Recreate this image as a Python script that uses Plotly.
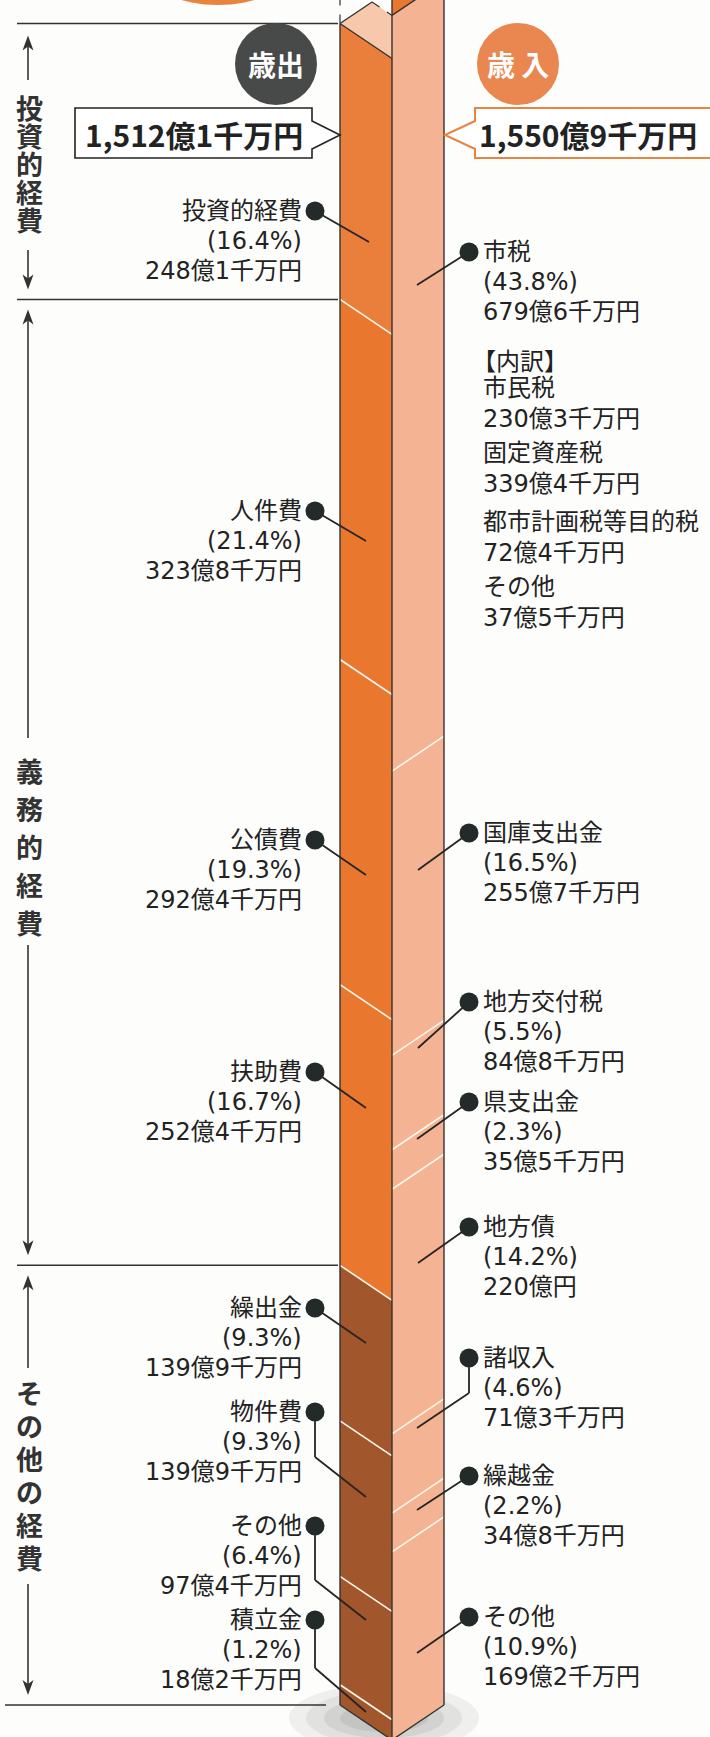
import plotly.graph_objects as go

# ---------------- data (億円) ----------------
exp_names = ["投資的経費", "人件費", "公債費", "扶助費", "繰出金", "物件費", "その他", "積立金"]
exp_values = [248.1, 323.8, 292.4, 252.4, 139.9, 139.9, 97.4, 18.2]
exp_groups = ["投資的経費", "義務的経費", "義務的経費", "義務的経費",
              "その他の経費", "その他の経費", "その他の経費", "その他の経費"]

rev_names = ["市税", "国庫支出金", "地方交付税", "県支出金", "地方債", "諸収入", "繰越金", "その他"]
rev_values = [679.6, 255.7, 84.8, 35.5, 220.0, 71.3, 34.8, 169.2]

city_tax_names = ["市民税", "固定資産税", "都市計画税等目的税", "その他"]
city_tax_values = [230.3, 339.4, 72.4, 37.5]

exp_title = "歳出"
rev_title = "歳 入"

# ---------------- helpers ----------------
def oku(v):
    t = int(round(v * 10))
    o, s = divmod(t, 10)
    return f"{o:,}億{s}千万円" if s else f"{o:,}億円"

exp_total = sum(exp_values)
rev_total = sum(rev_values)

W, H = 710, 1737
B = 1705.0      # pixel row of column bottom (at outer edges)
K = 1.112       # pixels per 億円
def vy(p):      # pixel row -> value axis
    return (B - p) / K

XL, XC, XR = 340, 392, 444
S = 35 / K      # slant of the prism faces in value units

FONT = "Noto Sans CJK JP, Noto Sans CJK SC, sans-serif"
LFONT = "DejaVu Sans, Noto Sans CJK JP, sans-serif"
TXT = "#222222"
EDGE = "#333333"

exp_colors = ["#EA7F3C", "#E9772E", "#E9772E", "#E9772E",
              "#A1572B", "#A1572B", "#A1572B", "#A1572B"]
rev_color = "#F4B392"
top_color = "#F7C8AC"

fig = go.Figure()
shapes = []
ann = []

def line(x0, p0, x1, p1, color=EDGE, width=1.5, dash=None, v=False):
    y0 = p0 if v else vy(p0)
    y1 = p1 if v else vy(p1)
    d = dict(type="line", xref="x", yref="y", x0=x0, x1=x1, y0=y0, y1=y1,
             line=dict(color=color, width=width))
    if dash:
        d["line"]["dash"] = dash
    shapes.append(d)

def circle(cx, cp, r, color, layer="above", opacity=1):
    shapes.append(dict(type="circle", xref="x", yref="y", x0=cx - r, x1=cx + r,
                       y0=vy(cp + r), y1=vy(cp - r), fillcolor=color,
                       line=dict(width=0), layer=layer, opacity=opacity))

def text(x, p, s, size=24, anchor="left", color=TXT, bold=False, family=LFONT):
    ann.append(dict(x=x, y=vy(p), xref="x", yref="y", text=(f"<b>{s}</b>" if bold else s),
                    showarrow=False, xanchor=anchor, yanchor="middle",
                    font=dict(family=family, size=size, color=color)))

# ---------------- shadow ----------------
for rx, ry, op in [(95, 34, 0.10), (78, 27, 0.12), (60, 20, 0.14), (44, 14, 0.16)]:
    shapes.append(dict(type="circle", xref="x", yref="y", x0=XC - 8 - rx, x1=XC - 8 + rx,
                       y0=vy(1718 + ry), y1=vy(1718 - ry), fillcolor="#7a7a7a",
                       line=dict(width=0), layer="below", opacity=op))

# partial orange circle at very top
circle(218, -131, 136, "#E9843F")

# ---------------- column faces (from data) ----------------
top = exp_total
for name, val, col in zip(exp_names, exp_values, exp_colors):
    bot = top - val
    fig.add_trace(go.Scatter(x=[XL, XC, XC, XL, XL], y=[top, top - S, bot - S, bot, top],
                             fill="toself", fillcolor=col, mode="lines", line=dict(width=0),
                             hoverinfo="skip", name=name))
    top = bot

top = rev_total
for name, val in zip(rev_names, rev_values):
    bot = top - val
    fig.add_trace(go.Scatter(x=[XC, XR, XR, XC, XC], y=[top - S, top, bot, bot - S, top - S],
                             fill="toself", fillcolor=rev_color, mode="lines", line=dict(width=0),
                             hoverinfo="skip", name=name))
    top = bot

# top face of expenditure block and the upper part of the revenue block
a = (exp_total - rev_total + 2 * S) / (2 * S)
tx = XC - (XC - XL) * a
tv = rev_total - S + S * a
fig.add_trace(go.Scatter(x=[XL, XC, XC, tx, XL], y=[exp_total, exp_total - S, rev_total - S, tv, exp_total],
                         fill="toself", fillcolor=top_color, mode="lines", line=dict(width=0),
                         hoverinfo="skip"))
fig.add_trace(go.Scatter(x=[XC, XR, XR, XC, XC],
                         y=[rev_total - S, rev_total, rev_total + 80, rev_total + 80, rev_total - S],
                         fill="toself", fillcolor="#E9772E", mode="lines", line=dict(width=0),
                         hoverinfo="skip"))

# white dividers
top = exp_total
for val in exp_values[:-1]:
    top -= val
    line(XL, top, XC, top - S, color="#FFF6EE", width=1.6, v=True)
top = rev_total
for val in rev_values[:-1]:
    top -= val
    line(XC, top - S, XR, top, color="#FFF6EE", width=1.6, v=True)

# edges
line(XL, 0, XL, exp_total, v=True, width=1.4)
line(XC, -S, XC, rev_total + 80, v=True, width=1.4)
line(XR, 0, XR, rev_total + 80, v=True, width=1.4)
line(XL, 0, XC, -S, v=True, width=1.4)
line(XC, -S, XR, 0, v=True, width=1.4)
line(XL, exp_total, XC, exp_total - S, v=True, width=1.4)
line(XC, rev_total - S, XR, rev_total, v=True, width=1.4)
line(XL, exp_total, tx, tv, v=True, width=1.4)
line(tx, tv, XC, rev_total - S, v=True, width=1.2, dash="dash")
line(XL, exp_total, XL, rev_total + 80, v=True, width=1.2, dash="dash")

# ---------------- section separators and vertical labels ----------------
group_order = []
for g in exp_groups:
    if g not in group_order:
        group_order.append(g)
seps = [B - K * exp_total]
acc = exp_total
for g in group_order:
    acc -= sum(v for v, gg in zip(exp_values, exp_groups) if gg == g)
    seps.append(B - K * acc)
for i, p in enumerate(seps):
    x0 = 5 if i == len(seps) - 1 else 17
    x1 = 326 if i == len(seps) - 1 else 338
    line(x0, p, x1, p, color="#333333", width=1.6)

sec_char_start = [107, 770, 1392]
sec_char_pitch = [28, 38, 33]
sec_arrow_tail = [(80, 250), (738, 945), (1368, 1584)]
AX = 28

def arrow(tail, tip):
    line(AX, tail, AX, tip + (6 if tip < tail else -6), color="#333333", width=1.6)
    d = -1 if tip < tail else 1
    shapes.append(dict(type="path", xref="x", yref="y",
                       path=f"M {AX - 5.5},{vy(tip - d * 15)} L {AX},{vy(tip)} L {AX + 5.5},{vy(tip - d * 15)} "
                            f"L {AX},{vy(tip - d * 11)} Z",
                       fillcolor="#333333", line=dict(width=0)))

for i, g in enumerate(group_order):
    for j, ch in enumerate(g):
        text(AX + 1, sec_char_start[i] + j * sec_char_pitch[i], ch, size=27, anchor="center",
             color="#333333", bold=True, family=FONT)
    up_tail, down_tail = sec_arrow_tail[i]
    arrow(up_tail, seps[i] + (12 if i == 0 else 10))
    arrow(down_tail, seps[i + 1] - 10)

# ---------------- title circles and total boxes ----------------
circle(276, 64, 41, "#474A48")
text(276, 64, exp_title, size=28, anchor="center", color="white", bold=True, family=FONT)
circle(518, 64, 41, "#EA8650")
text(518, 64, rev_title, size=28, anchor="center", color="white", bold=True, family=FONT)

def pathpx(pts):
    return "M " + " L ".join(f"{x},{vy(p)}" for x, p in pts) + " Z"

shapes.append(dict(type="path", xref="x", yref="y",
                   path=pathpx([(75, 108), (312, 108), (312, 121), (XL, 135), (312, 149), (312, 158), (75, 158)]),
                   fillcolor="white", line=dict(color="#222222", width=1.6)))
shapes.append(dict(type="path", xref="x", yref="y",
                   path=pathpx([(714, 108), (475, 108), (475, 121), (XR + 1, 135), (475, 149), (475, 158), (714, 158)]),
                   fillcolor="white", line=dict(color="#E8843F", width=2)))
text(194, 134, oku(exp_total), size=30, anchor="center", color="#222222", bold=True, family=FONT)
text(588, 134, oku(rev_total), size=30, anchor="center", color="#222222", bold=True, family=FONT)

# ---------------- item labels ----------------
LS = 30
exp_label_y = [211, 511, 840, 1072, 1308, 1412, 1526, 1620]
exp_leader_bend = [None, None, None, None, None, 1457, 1580, 1668]
exp_leader_end = [(369, 242), (366, 541), (366, 875), (366, 1108), (366, 1343), (366, 1497), (366, 1620), (366, 1712)]
rev_label_y = [252, 833, 1002, 1102, 1227, 1358, 1476, 1617]
rev_leader_bend = [None, None, None, None, None, 1393, None, None]
rev_leader_end = [(417, 285), (418, 870), (418, 1048), (417, 1139), (418, 1263), (417, 1428), (417, 1510), (417, 1653)]
LDX, RDX = 315, 469
DOT_R = 9.5
LEADER = "#252525"

for name, val, py, bend, end in zip(exp_names, exp_values, exp_label_y, exp_leader_bend, exp_leader_end):
    if bend is None:
        line(LDX, py, end[0], end[1], color=LEADER, width=1.8)
    else:
        line(LDX, py, LDX, bend, color=LEADER, width=1.8)
        line(LDX, bend, end[0], end[1], color=LEADER, width=1.8)
    circle(LDX, py, DOT_R, "#222a2a")
    text(304, py, name, anchor="right")
    text(304, py + LS, f"({val / exp_total * 100:.1f}%)", anchor="right")
    text(304, py + 2 * LS, oku(val), anchor="right")

for name, val, py, bend, end in zip(rev_names, rev_values, rev_label_y, rev_leader_bend, rev_leader_end):
    if bend is None:
        line(RDX, py, end[0], end[1], color=LEADER, width=1.8)
    else:
        line(RDX, py, RDX, bend, color=LEADER, width=1.8)
        line(RDX, bend, end[0], end[1], color=LEADER, width=1.8)
    circle(RDX, py, DOT_R, "#222a2a")
    text(481, py, name, anchor="left")
    text(481, py + LS, f"({val / rev_total * 100:.1f}%)", anchor="left")
    text(481, py + 2 * LS, oku(val), anchor="left")

# breakdown of city tax
text(470, 362, "【内訳】", anchor="left")
city_y = [388, 453, 522, 587]
for name, val, py in zip(city_tax_names, city_tax_values, city_y):
    text(481, py, name, anchor="left")
    text(481, py + 31, oku(val), anchor="left")

fig.update_layout(
    width=W, height=H, margin=dict(l=0, r=0, t=0, b=0),
    paper_bgcolor="#FDFDFB", plot_bgcolor="#FDFDFB", showlegend=False,
    xaxis=dict(range=[0, W], visible=False, fixedrange=True),
    yaxis=dict(range=[vy(H), vy(0)], visible=False, fixedrange=True),
    shapes=shapes, annotations=ann,
)
fig.write_html("out.html", config={"displayModeBar": False},
               post_script="document.body.style.margin='0px';document.body.style.overflow='hidden';")
